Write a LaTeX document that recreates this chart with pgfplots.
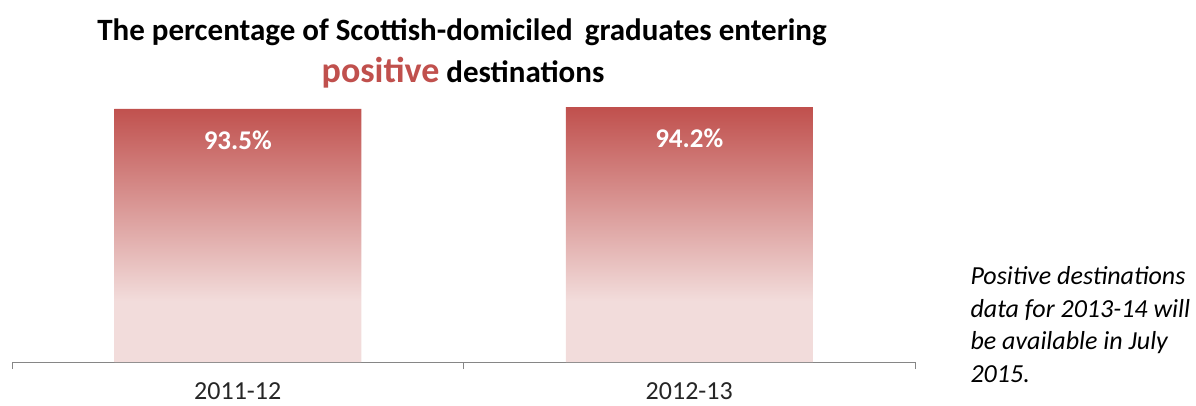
\documentclass[border=0pt]{standalone}
\usepackage{fontspec}
\setmainfont{Carlito}
\usepackage{pgfplots}
\pgfplotsset{compat=1.18}
\definecolor{barred}{HTML}{C0504D}
\definecolor{barpink}{HTML}{F2DCDB}
\definecolor{axisgray}{HTML}{868686}
\pgfdeclareverticalshading{barfade}{100bp}{color(0bp)=(barpink); color(25bp)=(barpink); color(37bp)=(barpink); color(75bp)=(barred); color(100bp)=(barred)}
\begin{document}
\begin{tikzpicture}
\useasboundingbox (0,0) rectangle (1196bp,406bp);
\begin{axis}[
  at={(12bp,44bp)}, anchor=south west,
  scale only axis, width=903bp, height=270.6bp,
  xmin=-0.5, xmax=1.5, ymin=0, ymax=100,
  axis x line=bottom, axis y line=none,
  x axis line style={draw=axisgray, line width=1bp, -},
  xtick={0,1}, xticklabels={2011-12,2012-13},
  major tick length=0pt,
  minor xtick={-0.5,0.5,1.5}, minor tick length=7bp,
  tick align=outside,
  tick style={draw=axisgray, line width=1bp},
  xticklabel style={font=\fontsize{26bp}{30bp}\selectfont, text=black!85, anchor=base, inner sep=0bp, yshift=-37bp},
  ybar, bar width=247bp,
  /pgf/number format/assume math mode=true,
  nodes near coords={\pgfmathprintnumber[fixed,fixed zerofill,precision=1]{\pgfplotspointmeta}\%},
  nodes near coords style={font=\bfseries\fontsize{27bp}{30bp}\selectfont, text=white, anchor=center, yshift=-31bp},
  clip=false,
]
\addplot[draw=none, shade, shading=barfade] coordinates {(0,93.5) (1,94.2)};
\end{axis}
\node[anchor=base, font=\bfseries\fontsize{31bp}{36bp}\selectfont] at (462bp,365bp) {The percentage of Scottish-domiciled\hspace{5bp} graduates entering};
\node[anchor=base, font=\bfseries\fontsize{31bp}{36bp}\selectfont] at (463bp,323bp) {{\color{barred}\fontsize{36bp}{40bp}\selectfont positive} destinations};
\node[anchor=base west, font=\itshape\fontsize{26bp}{32bp}\selectfont] at (967bp,121bp) {Positive destinations};
\node[anchor=base west, font=\itshape\fontsize{26bp}{32bp}\selectfont] at (967bp,88bp) {data for 2013-14 will};
\node[anchor=base west, font=\itshape\fontsize{26bp}{32bp}\selectfont] at (967bp,56bp) {be available in July};
\node[anchor=base west, font=\itshape\fontsize{26bp}{32bp}\selectfont] at (967bp,24bp) {2015.};
\end{tikzpicture}
\end{document}
